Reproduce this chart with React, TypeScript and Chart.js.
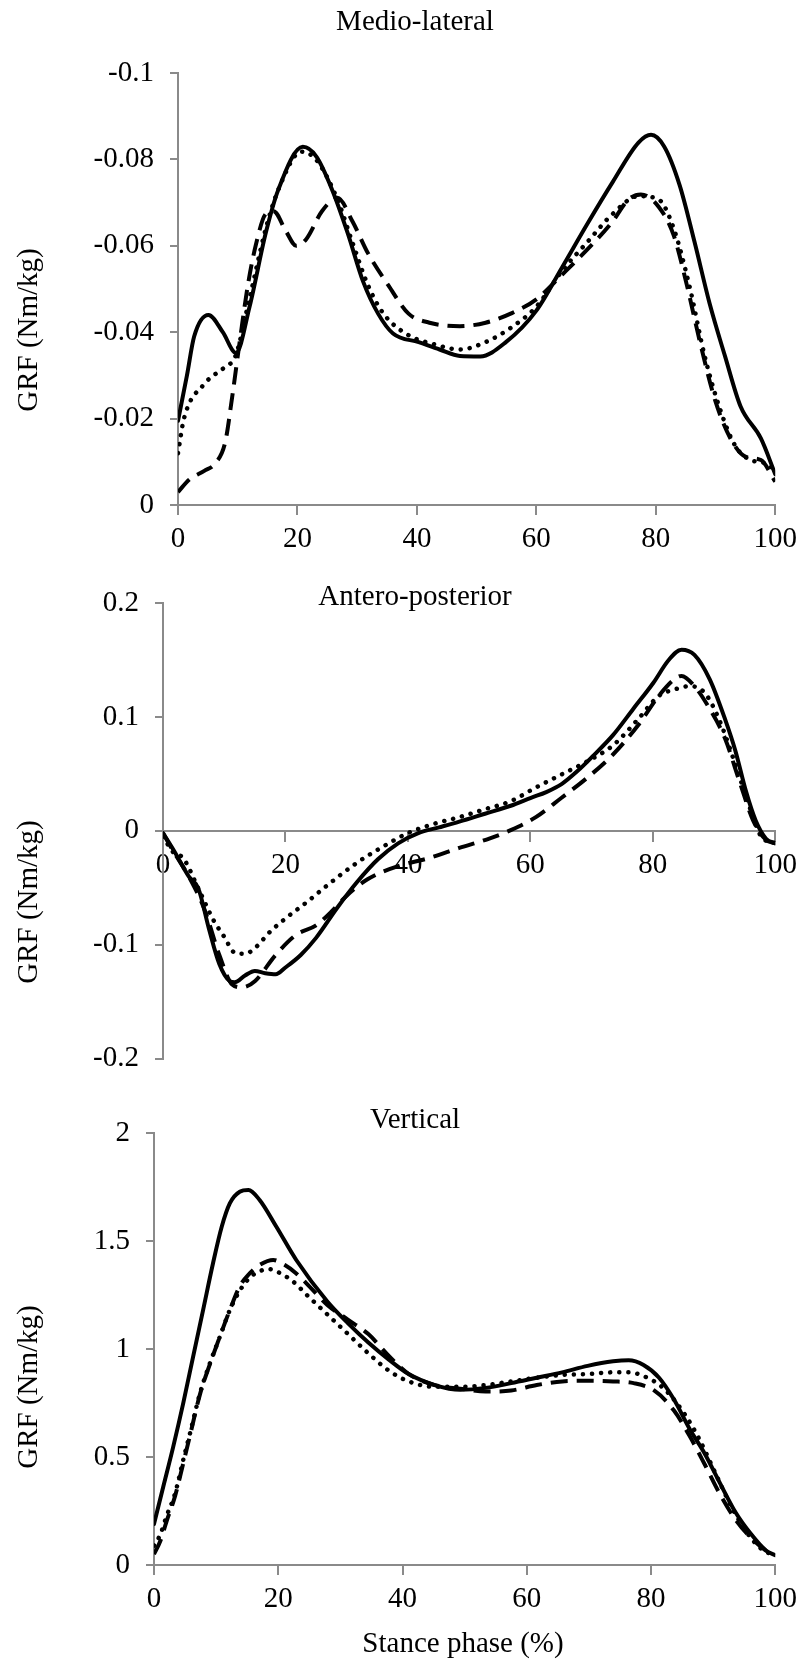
import React, { useEffect, useRef } from "react";
import { Chart, registerables } from "chart.js";

Chart.register(...registerables);

const FONT = "'Liberation Serif', 'Times New Roman', serif";
const AXIS_COLOR = "#8a8a8a";

// ---------- shared x axis ----------
const xTicks = [0, 20, 40, 60, 80, 100];
const xTickLabels = ["0", "20", "40", "60", "80", "100"];

// ---------- Medio-lateral ----------
const mlYTicks = [-0.1, -0.08, -0.06, -0.04, -0.02, 0];
const mlYTickLabels = ["-0.1", "-0.08", "-0.06", "-0.04", "-0.02", "0"];

const mlSolidX = [0, 1.5, 2.7, 5.1, 7.5, 9.7, 12, 14.7, 16.8, 20.9, 23.2, 25.8, 28.4, 31, 33.5, 36, 40.3, 43.8, 47.2, 50.6, 54.9, 60, 64.3, 68.5, 72.8, 77.1, 79.2, 81.4, 84, 86.5, 89, 91.6, 94.2, 97.6, 100];
const mlSolidY = [-0.0195, -0.03, -0.039, -0.044, -0.04, -0.0352, -0.046, -0.063, -0.073, -0.0829, -0.0806, -0.073, -0.063, -0.0517, -0.0443, -0.0397, -0.0377, -0.036, -0.0345, -0.0344, -0.0377, -0.045, -0.055, -0.065, -0.0748, -0.0839, -0.0857, -0.083, -0.074, -0.0608, -0.0467, -0.0344, -0.0228, -0.0154, -0.0071];

const mlDotX = [0, 1, 4.4, 7.9, 9.6, 12, 14.7, 16.8, 20.7, 23.2, 26.7, 29.2, 31.8, 34.4, 38.6, 42.9, 47.2, 51.5, 55.7, 60, 64.3, 68.5, 72.8, 77.1, 80.5, 83, 85.6, 88.2, 90.8, 93.3, 95.9, 98.5, 100];
const mlDotY = [-0.012, -0.02, -0.028, -0.032, -0.0344, -0.048, -0.064, -0.073, -0.0818, -0.0798, -0.0707, -0.0608, -0.0509, -0.0443, -0.0393, -0.0372, -0.036, -0.0377, -0.041, -0.0459, -0.0542, -0.0608, -0.0674, -0.0715, -0.0707, -0.064, -0.0509, -0.0344, -0.022, -0.0137, -0.0104, -0.0096, -0.0079];

const mlDashX = [0, 1.9, 4.4, 6.2, 7.9, 9.1, 10.4, 11.7, 13, 14.7, 16, 18.1, 19.8, 21.5, 24.1, 26.7, 29.2, 31.8, 35.2, 38.6, 42.1, 47.2, 51.5, 55.7, 60, 64.3, 68.5, 72.8, 75.4, 77.5, 80.5, 83, 85.2, 87.4, 89.9, 92.5, 95, 97.6, 100];
const mlDashY = [-0.003, -0.0059, -0.0079, -0.0096, -0.0145, -0.0253, -0.0385, -0.0509, -0.06, -0.0674, -0.068, -0.0633, -0.06, -0.0616, -0.068, -0.0711, -0.0657, -0.0583, -0.0509, -0.0443, -0.0422, -0.0414, -0.0422, -0.0443, -0.0476, -0.0533, -0.0591, -0.0657, -0.0707, -0.0719, -0.069, -0.0624, -0.0509, -0.0377, -0.0244, -0.0154, -0.0112, -0.0104, -0.0054];

// ---------- Antero-posterior ----------
const apYTicks = [-0.2, -0.1, 0, 0.1, 0.2];
const apYTickLabels = ["-0.2", "-0.1", "0", "0.1", "0.2"];

const apSolidX = [0, 1.7, 4.2, 5.8, 7.5, 9.2, 10.9, 11.7, 13.4, 15, 16.7, 18.4, 20, 22.5, 25, 28.4, 31.7, 35.1, 38.4, 41.7, 45.1, 48.4, 52.6, 56.8, 60.1, 62.6, 65.1, 67.6, 70.1, 73.5, 76.8, 80.1, 82.6, 84.7, 86.8, 89.3, 91.8, 93.5, 95.2, 96.8, 98.5, 100];
const apSolidY = [-0.002, -0.0167, -0.04, -0.051, -0.086, -0.117, -0.132, -0.133, -0.127, -0.123, -0.125, -0.126, -0.12, -0.109, -0.094, -0.068, -0.045, -0.025, -0.011, -0.002, 0.003, 0.008, 0.015, 0.022, 0.029, 0.034, 0.041, 0.052, 0.065, 0.084, 0.107, 0.13, 0.15, 0.159, 0.1545, 0.133, 0.098, 0.07, 0.035, 0.009, -0.007, -0.011];

const apDotX = [0, 1.7, 3.3, 5.8, 8.3, 10, 11.7, 13.4, 15, 17.5, 20, 23.4, 27.5, 31.7, 35.9, 40, 44.2, 48.4, 52.6, 56.8, 60.9, 65.1, 69.3, 73.5, 77.6, 81, 83.5, 86, 88.5, 91, 93.5, 96, 97.7, 100];
const apDotY = [-0.005, -0.019, -0.024, -0.051, -0.079, -0.093, -0.107, -0.108, -0.103, -0.0886, -0.077, -0.063, -0.045, -0.028, -0.014, -0.002, 0.006, 0.012, 0.019, 0.026, 0.038, 0.0495, 0.061, 0.075, 0.098, 0.1186, 0.124, 0.127, 0.121, 0.0955, 0.058, 0.018, -0.005, -0.011];

const apDashX = [0, 1.7, 4.2, 6.7, 9.2, 11.3, 12.9, 15, 18.4, 21.7, 25, 27.5, 30, 33.4, 38.4, 43.4, 48.4, 53.4, 56.8, 60.9, 65.1, 69.3, 73.5, 77.6, 81, 83.5, 84.7, 86.8, 89.3, 91.8, 94.3, 96.4, 98.5, 100];
const apDashY = [-0.002, -0.018, -0.04, -0.068, -0.109, -0.135, -0.1375, -0.132, -0.109, -0.0915, -0.083, -0.071, -0.057, -0.0426, -0.031, -0.024, -0.015, -0.0066, 0.0006, 0.012, 0.029, 0.0466, 0.067, 0.0927, 0.1186, 0.133, 0.136, 0.127, 0.107, 0.081, 0.041, 0.009, -0.008, -0.011];

// ---------- Vertical ----------
const vYTicks = [0, 0.5, 1, 1.5, 2];
const vYTickLabels = ["0", "0.5", "1", "1.5", "2"];

const vSolidX = [0, 1.5, 3.1, 4.7, 6.3, 7.9, 9.5, 10.9, 12.2, 13.8, 15.2, 17, 19.7, 22.9, 27.9, 31.2, 34.5, 37.8, 41, 45.2, 49.3, 53.4, 57.5, 61.6, 65.7, 69.8, 73.9, 76.4, 78.8, 81.3, 83.7, 86.2, 88.7, 91.1, 93.6, 96.1, 98.5, 100];
const vSolidY = [0.19, 0.363, 0.548, 0.748, 0.965, 1.18, 1.397, 1.566, 1.674, 1.728, 1.736, 1.69, 1.566, 1.412, 1.22, 1.12, 1.03, 0.951, 0.884, 0.833, 0.811, 0.82, 0.842, 0.867, 0.892, 0.922, 0.943, 0.948, 0.926, 0.867, 0.766, 0.631, 0.513, 0.379, 0.244, 0.143, 0.067, 0.045];

const vDotX = [0, 1, 2, 3.4, 4.7, 5.8, 7.4, 9, 10.6, 12.2, 13.8, 15.4, 17, 18.5, 20.8, 22.4, 24.6, 27.9, 31.2, 34.5, 37.8, 41, 45.2, 49.3, 53.4, 57.5, 61.6, 65.7, 69.8, 73.9, 76.4, 78.8, 82.1, 85.4, 87.8, 90.3, 92.8, 95.2, 97.7, 100];
const vDotY = [0.09, 0.14, 0.224, 0.332, 0.486, 0.61, 0.795, 0.934, 1.057, 1.18, 1.27, 1.33, 1.36, 1.37, 1.343, 1.312, 1.25, 1.16, 1.07, 0.98, 0.9, 0.85, 0.825, 0.825, 0.833, 0.85, 0.867, 0.88, 0.884, 0.892, 0.892, 0.875, 0.816, 0.699, 0.581, 0.429, 0.278, 0.16, 0.076, 0.042];

const vDashX = [0, 1, 2, 3.4, 4.7, 5.8, 7.4, 9, 10.6, 12.2, 13.8, 15.4, 17, 19.2, 21, 22.9, 25, 27.9, 31.2, 34.5, 37.8, 41, 45.2, 49.3, 53.4, 57.5, 61.6, 65.7, 69.8, 73.9, 77.2, 80.5, 83.7, 86.2, 88.7, 91.1, 93.6, 96.1, 98.5, 100];
const vDashY = [0.05, 0.11, 0.2, 0.32, 0.47, 0.6, 0.79, 0.93, 1.057, 1.18, 1.29, 1.35, 1.389, 1.412, 1.39, 1.35, 1.29, 1.204, 1.136, 1.069, 0.968, 0.884, 0.833, 0.816, 0.803, 0.808, 0.833, 0.85, 0.853, 0.85, 0.842, 0.808, 0.715, 0.598, 0.463, 0.328, 0.21, 0.126, 0.067, 0.045];

const Y_TITLE = "GRF (Nm/kg)";
const X_TITLE = "Stance phase (%)";

type Style = "solid" | "dot" | "dash";

const styleOf = (s: Style) => {
  if (s === "solid") return { borderWidth: 4, borderDash: [] as number[], borderCapStyle: "round" as const };
  if (s === "dot") return { borderWidth: 4.5, borderDash: [0.1, 9], borderCapStyle: "round" as const };
  return { borderWidth: 4, borderDash: [17, 9], borderCapStyle: "butt" as const };
};

const zip = (xs: number[], ys: number[]) => xs.map((x, i) => ({ x, y: ys[i] }));

type TextItem = { text: string; x: number; y: number; rotate?: boolean };

interface PanelProps {
  top: number;
  height: number;
  plotLeft: number;
  plotTop: number;
  plotBottom: number;
  plotRight: number;
  yMin: number;
  yMax: number;
  yTicks: number[];
  yTickLabels: string[];
  reverse: boolean;
  xAtZero: boolean;
  series: { xs: number[]; ys: number[]; style: Style }[];
  texts: TextItem[];
}

function Panel(p: PanelProps) {
  const ref = useRef<HTMLCanvasElement | null>(null);
  useEffect(() => {
    if (!ref.current) return;
    const W = 804;
    const textPlugin = {
      id: "panelTexts",
      afterDraw(chart: any) {
        const ctx = chart.ctx as CanvasRenderingContext2D;
        ctx.save();
        ctx.fillStyle = "#000";
        ctx.font = `29px ${FONT}`;
        ctx.textAlign = "center";
        for (const t of p.texts) {
          ctx.save();
          ctx.translate(t.x, t.y);
          if (t.rotate) {
            ctx.rotate(-Math.PI / 2);
            ctx.textBaseline = "middle";
          } else {
            ctx.textBaseline = "alphabetic";
          }
          ctx.fillText(t.text, 0, 0);
          ctx.restore();
        }
        ctx.restore();
      },
    };
    const xHeight = p.xAtZero ? 0 : p.height - p.plotBottom;
    const chart = new Chart(ref.current, {
      type: "line",
      data: {
        datasets: p.series.map((s) => ({
          data: zip(s.xs, s.ys),
          borderColor: "#000",
          backgroundColor: "#000",
          pointRadius: 0,
          pointHoverRadius: 0,
          fill: false,
          cubicInterpolationMode: "monotone" as const,
          borderJoinStyle: "round" as const,
          ...styleOf(s.style),
        })),
      },
      options: {
        responsive: false,
        animation: false,
        events: [],
        layout: {
          padding: {
            left: 0,
            top: p.plotTop,
            right: W - p.plotRight,
            bottom: p.xAtZero ? p.height - p.plotBottom : 0,
          },
        },
        plugins: { legend: { display: false }, tooltip: { enabled: false }, title: { display: false } },
        scales: {
          x: {
            type: "linear",
            min: 0,
            max: 100,
            position: p.xAtZero ? ({ y: 0 } as any) : "bottom",
            afterFit: (s: any) => {
              s.height = xHeight;
            },
            afterBuildTicks: (s: any) => {
              s.ticks = xTicks.map((v) => ({ value: v }));
            },
            ticks: {
              callback: (_v: any, i: number) => xTickLabels[i],
              font: { family: FONT, size: 29 },
              color: "#000",
              padding: 7,
              maxRotation: 0,
              autoSkip: false,
            },
            grid: { display: true, drawOnChartArea: false, drawTicks: true, tickLength: 10, color: AXIS_COLOR, lineWidth: 2 },
            border: { display: true, color: AXIS_COLOR, width: 2 },
          },
          y: {
            type: "linear",
            min: p.yMin,
            max: p.yMax,
            reverse: p.reverse,
            position: "left",
            afterFit: (s: any) => {
              s.width = p.plotLeft;
            },
            afterBuildTicks: (s: any) => {
              s.ticks = p.yTicks.map((v) => ({ value: v }));
            },
            ticks: {
              callback: (_v: any, i: number) => p.yTickLabels[i],
              font: { family: FONT, size: 29 },
              color: "#000",
              padding: 16,
              autoSkip: false,
            },
            grid: { display: true, drawOnChartArea: false, drawTicks: true, tickLength: 8, color: AXIS_COLOR, lineWidth: 2 },
            border: { display: true, color: AXIS_COLOR, width: 2 },
          },
        },
      },
      plugins: [textPlugin],
    } as any);
    return () => chart.destroy();
  }, []);
  return (
    <canvas
      ref={ref}
      width={804}
      height={p.height}
      style={{ position: "absolute", left: 0, top: p.top, width: 804, height: p.height, display: "block" }}
    />
  );
}

export default function App() {
  return (
    <div style={{ position: "absolute", left: 0, top: 0, width: 804, height: 1661, background: "#fff", overflow: "hidden" }}>
      <Panel
        top={0}
        height={560}
        plotLeft={178}
        plotTop={73}
        plotBottom={505}
        plotRight={778}
        yMin={-0.1}
        yMax={0}
        yTicks={mlYTicks}
        yTickLabels={mlYTickLabels}
        reverse={true}
        xAtZero={false}
        series={[
          { xs: mlSolidX, ys: mlSolidY, style: "solid" },
          { xs: mlDotX, ys: mlDotY, style: "dot" },
          { xs: mlDashX, ys: mlDashY, style: "dash" },
        ]}
        texts={[
          { text: "Medio-lateral", x: 415, y: 30 },
          { text: Y_TITLE, x: 29, y: 330, rotate: true },
        ]}
      />
      <Panel
        top={560}
        height={532}
        plotLeft={163}
        plotTop={43}
        plotBottom={513}
        plotRight={778}
        yMin={-0.2}
        yMax={0.2}
        yTicks={apYTicks}
        yTickLabels={apYTickLabels}
        reverse={false}
        xAtZero={true}
        series={[
          { xs: apSolidX, ys: apSolidY, style: "solid" },
          { xs: apDotX, ys: apDotY, style: "dot" },
          { xs: apDashX, ys: apDashY, style: "dash" },
        ]}
        texts={[
          { text: "Antero-posterior", x: 415, y: 45 },
          { text: Y_TITLE, x: 29, y: 342, rotate: true },
        ]}
      />
      <Panel
        top={1090}
        height={571}
        plotLeft={154}
        plotTop={43}
        plotBottom={475}
        plotRight={778}
        yMin={0}
        yMax={2}
        yTicks={vYTicks}
        yTickLabels={vYTickLabels}
        reverse={false}
        xAtZero={false}
        series={[
          { xs: vSolidX, ys: vSolidY, style: "solid" },
          { xs: vDotX, ys: vDotY, style: "dot" },
          { xs: vDashX, ys: vDashY, style: "dash" },
        ]}
        texts={[
          { text: "Vertical", x: 415, y: 38 },
          { text: Y_TITLE, x: 29, y: 297, rotate: true },
          { text: X_TITLE, x: 463, y: 562 },
        ]}
      />
    </div>
  );
}
